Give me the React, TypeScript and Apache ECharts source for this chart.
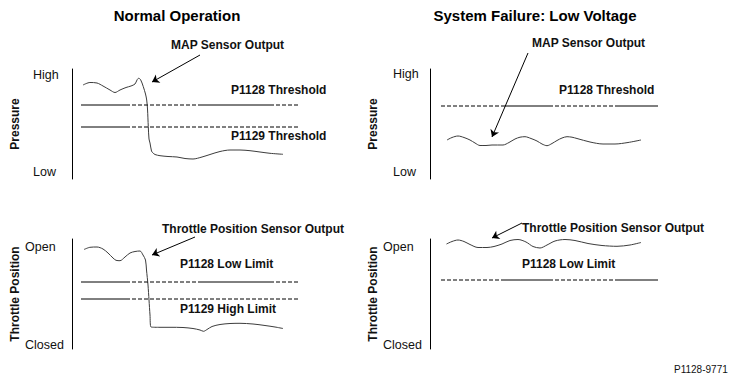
import React, { useEffect, useRef } from 'react';
import * as echarts from 'echarts';

const FONT = '"Liberation Sans", Arial, Helvetica, sans-serif';

// Each panel: x = time (0..228), y = signal level (0..110)
const X_MAX = 228;
const Y_MAX = 110;

const panelTitles = ['Normal Operation', 'System Failure: Low Voltage'];
const pressureAxisName = 'Pressure';
const throttleAxisName = 'Throttle Position';
const pressureTickLabels = ['Low', 'High'];
const throttleTickLabels = ['Closed', 'Open'];
const pressureTickValuesLeft = [7, 104];
const pressureTickValuesRight = [7, 105];
const throttleTickValuesLeft = [4, 102];
const throttleTickValuesRight = [4, 102];

// MAP sensor output, normal operation
const mapNormal = [
  [11, 94], [18, 96.5], [25, 96], [31, 93], [38, 89], [43, 86.5], [48, 89], [54, 91.5],
  [59, 93], [63, 95], [65, 99], [66.5, 100.7], [68.5, 99.5], [71.3, 92.3], [73.5, 85],
  [74.7, 79], [75.5, 70], [76.3, 52.3], [77, 40], [78, 36], [79.5, 28], [80.7, 26.3],
  [83, 24.5], [88, 23.3], [96, 22.5], [105, 22], [113, 20.5], [121, 20], [130, 22],
  [138, 24.5], [148, 27.5], [158, 29], [168, 29], [178, 28.3], [188, 27], [198, 25.7], [211, 24.7],
];
// MAP sensor output, low voltage
const mapFailure = [
  [17, 39], [22, 41.5], [28, 43], [34, 41.5], [40, 39], [45, 36], [50, 33.5], [56, 33.5],
  [62, 34], [73, 34], [79, 36.5], [85, 40], [90, 41.8], [95, 42.3], [101, 40.5], [107, 38],
  [112, 35], [117, 33.3], [122, 35.5], [127, 38.5], [132, 41], [137, 42.3], [142, 41.8],
  [147, 40.5], [160, 37], [173, 35], [185, 35], [198, 36.5], [211, 39],
];
// Throttle position sensor output, normal operation
const tpsNormal = [
  [12, 99.5], [18, 101.7], [25, 102], [31, 100], [36, 96], [41, 91], [44, 88.7], [48, 88.3],
  [53, 92], [58, 96], [63, 97.5], [68, 98], [71, 94], [73.5, 89], [74.5, 79], [76, 64],
  [77, 49], [78, 34], [79, 22], [88, 21.7], [98, 21.7], [111, 21.5], [121, 20.5], [128, 19],
  [131.5, 17.7], [135, 19.5], [140, 22.5], [148, 24.5], [158, 25.5], [168, 25.7], [181, 25],
  [193, 23.5], [203, 22], [211, 20.5],
];
// Throttle position sensor output, low voltage
const tpsFailure = [
  [16.5, 105], [22, 107.5], [28, 109], [34, 107.5], [40, 104.5], [48, 101.5], [57, 101.5],
  [64, 102.5], [72, 105], [80, 108.5], [88, 109.5], [96, 107], [103, 102.5], [110, 101],
  [117, 104], [125, 108], [135, 109.5], [145, 108.5], [158, 105.5], [172, 103.5],
  [187, 102.7], [200, 104], [211, 106.5],
];

// threshold levels
const p1128Normal = 74;
const p1129Normal = 52;
const p1128Failure = 73;
const p1128LowLimitNormal = 67;
const p1129HighLimitNormal = 50;
const p1128LowLimitFailure = 69;

// threshold line segments [fromX, toX, kind]
const leftSegmentsA = [[9, 54, 'solid'], [54, 129, 'dashed'], [129, 198, 'solid'], [198, 228, 'dashed']];
const leftSegmentsB = [[9, 54, 'solid'], [54, 228, 'dashed']];
const rightSegments = [[11, 72, 'dashed'], [72, 119, 'solid'], [119, 187, 'dashed'], [187, 228, 'solid']];

// arrows [from, to]
const arrowMapNormal = [[128, 124], [80, 97]];
const arrowMapFailure = [[98, 126], [62, 42]];
const arrowTpsNormal = [[123, 112], [80, 94]];
const arrowTpsFailure = [[92, 126], [62, 111]];

const figureCode = 'P1128-9771';

const GRID_W = 228;
const GRID_H = 110;
const CURVE_COLOR = '#3c3c3c';
const DASH = [4, 2];

function buildOption() {
  const panels = [
    {
      left: 72, top: 69, axisName: pressureAxisName, tickValues: pressureTickValuesLeft,
      tickLabels: pressureTickLabels, labelMargin: 39, curve: mapNormal, arrow: arrowMapNormal,
      thresholds: [[p1128Normal, leftSegmentsA], [p1129Normal, leftSegmentsB]],
    },
    {
      left: 430, top: 69, axisName: pressureAxisName, tickValues: pressureTickValuesRight,
      tickLabels: pressureTickLabels, labelMargin: 37, curve: mapFailure, arrow: arrowMapFailure,
      thresholds: [[p1128Failure, rightSegments]],
    },
    {
      left: 72, top: 239, axisName: throttleAxisName, tickValues: throttleTickValuesLeft,
      tickLabels: throttleTickLabels, labelMargin: 47, curve: tpsNormal, arrow: arrowTpsNormal,
      thresholds: [[p1128LowLimitNormal, leftSegmentsA], [p1129HighLimitNormal, leftSegmentsB]],
    },
    {
      left: 430, top: 239, axisName: throttleAxisName, tickValues: throttleTickValuesRight,
      tickLabels: throttleTickLabels, labelMargin: 47, curve: tpsFailure, arrow: arrowTpsFailure,
      thresholds: [[p1128LowLimitFailure, rightSegments]],
    },
  ];

  const grid: any[] = [];
  const xAxis: any[] = [];
  const yAxis: any[] = [];
  const series: any[] = [];

  panels.forEach((p, i) => {
    grid.push({ left: p.left, top: p.top, width: GRID_W, height: GRID_H, containLabel: false });
    xAxis.push({ type: 'value', gridIndex: i, min: 0, max: X_MAX, show: false });
    yAxis.push({
      type: 'value', gridIndex: i, min: 0, max: Y_MAX,
      name: p.axisName, nameLocation: 'middle', nameRotate: 90, nameGap: 51,
      nameTextStyle: { fontFamily: FONT, fontSize: 12, fontWeight: 'bold', color: '#111' },
      axisLine: { show: true, lineStyle: { color: '#000', width: 1 } },
      axisTick: { show: false },
      splitLine: { show: false },
      axisLabel: {
        customValues: p.tickValues,
        formatter: (v: number) => p.tickLabels[p.tickValues.indexOf(v)] ?? '',
        margin: p.labelMargin, align: 'left',
        fontFamily: FONT, fontSize: 12.5, color: '#111',
      },
    });
    series.push({
      type: 'line', xAxisIndex: i, yAxisIndex: i, data: p.curve, showSymbol: false,
      smooth: 0.3, lineStyle: { color: CURVE_COLOR, width: 1 }, silent: true,
    });
    p.thresholds.forEach(([level, segs]: any) => {
      segs.forEach(([x0, x1, kind]: any) => {
        series.push({
          type: 'line', xAxisIndex: i, yAxisIndex: i, showSymbol: false, silent: true,
          data: [[x0, level], [x1, level]],
          lineStyle: { color: '#000', width: 1, type: kind === 'dashed' ? DASH : 'solid' },
        });
      });
    });
    series.push({
      type: 'lines', coordinateSystem: 'cartesian2d', xAxisIndex: i, yAxisIndex: i,
      clip: false, silent: true, symbol: ['none', 'arrow'], symbolSize: 7,
      lineStyle: { color: '#000', width: 1, opacity: 1 },
      data: [{ coords: p.arrow }],
    });
  });

  const txt = (text: string, x: number, y: number, opts: any = {}) => ({
    type: 'text', x, y, silent: true,
    style: {
      text, fill: opts.fill ?? '#111',
      font: `${opts.weight ?? 'bold'} ${opts.size ?? 12}px ${FONT}`,
      align: opts.align ?? 'left', verticalAlign: 'middle',
      textAlign: opts.align ?? 'left', textVerticalAlign: 'middle',
    },
  });

  const graphic = [
    txt(panelTitles[0], 177, 15, { size: 15, align: 'center', fill: '#000' }),
    txt(panelTitles[1], 535, 15, { size: 15, align: 'center', fill: '#000' }),
    txt('MAP Sensor Output', 171, 45),
    txt('P1128 Threshold', 231, 90),
    txt('P1129 Threshold', 231, 136),
    txt('MAP Sensor Output', 532, 43),
    txt('P1128 Threshold', 559, 90),
    txt('Throttle Position Sensor Output', 162, 229),
    txt('P1128 Low Limit', 180, 264),
    txt('P1129 High Limit', 180, 309),
    txt('Throttle Position Sensor Output', 522, 228),
    txt('P1128 Low Limit', 522, 264),
    txt(figureCode, 674, 369, { weight: 'normal', size: 10 }),
  ];

  return {
    animation: false,
    backgroundColor: '#ffffff',
    grid, xAxis, yAxis, series, graphic,
  };
}

export default function App() {
  const ref = useRef<HTMLDivElement>(null);
  useEffect(() => {
    if (!ref.current) return;
    const chart = echarts.init(ref.current, null, { renderer: 'svg' });
    chart.setOption(buildOption() as any);
    return () => chart.dispose();
  }, []);
  return (
    <div
      ref={ref}
      style={{ position: 'fixed', left: 0, top: 0, width: 739, height: 381, background: '#fff' }}
    />
  );
}
